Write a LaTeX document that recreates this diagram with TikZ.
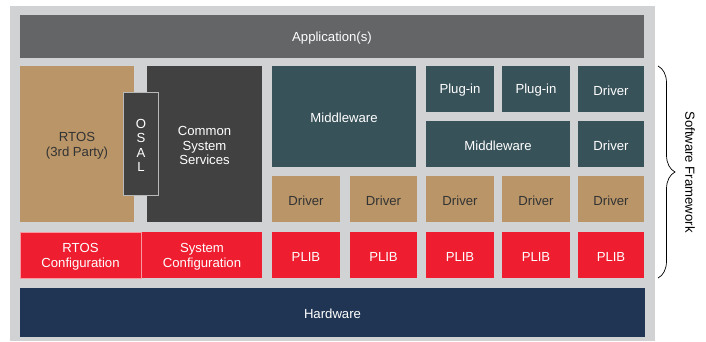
\documentclass[tikz,border=0pt]{standalone}
\usepackage{fontspec}
\setmainfont{Liberation Sans}
\usetikzlibrary{decorations.pathreplacing}
\definecolor{bggray}{HTML}{D1D2D4}
\definecolor{appgray}{HTML}{646567}
\definecolor{tanc}{HTML}{B99568}
\definecolor{darkc}{HTML}{414141}
\definecolor{tealc}{HTML}{38525A}
\definecolor{redc}{HTML}{EE1D2F}
\definecolor{navyc}{HTML}{1F3553}
\definecolor{tantext}{HTML}{333333}
\tikzset{
  blk/.style={anchor=north west, inner sep=0pt, outer sep=0pt},
  txt/.style={inner sep=0pt, align=center, yshift=-1.5bp, text=white,
    font=\fontsize{13.2}{14.6}\selectfont},
  appbox/.style={blk, fill=appgray},
  tanbox/.style={blk, fill=tanc},
  darkbox/.style={blk, fill=darkc},
  tealbox/.style={blk, fill=tealc},
  redbox/.style={blk, fill=redc},
  navybox/.style={blk, fill=navyc},
}
% \blk[extra]{style}{name}{x}{y}{w}{h}{text}{textcolor}
\newcommand\blkbox[8]{%
  \node[#1, minimum width=#5bp, minimum height=#6bp] (#2) at (#3,#4) {};
  \node[txt, text=#8] (#2-t) at (#2.center) {#7};}
\begin{document}
\begin{tikzpicture}[x=1bp,y=-1bp]
\useasboundingbox (0,0) rectangle (706,341);
\fill[bggray] (10,6) rectangle (655,341);
\blkbox{appbox}{app}{20}{15}{624}{43}{Application(s)}{white}
\blkbox{tanbox}{rtos}{20}{66}{114}{156}{RTOS\\(3rd Party)}{tantext}
\blkbox{darkbox}{css}{147}{66}{115}{156}{Common\\System\\Services}{white}
\blkbox{darkbox, draw=gray!55, line width=1bp}{osal}{123.5}{92.5}{35}{103}{O\\S\\A\\L}{white}
\blkbox{tealbox}{mw1}{272}{66}{144}{101}{Middleware}{white}
\blkbox{tealbox}{plug1}{426}{66}{68}{46}{Plug-in}{white}
\blkbox{tealbox}{plug2}{502}{66}{68}{46}{Plug-in}{white}
\blkbox{tealbox}{drvA}{578}{66}{66}{46}{Driver}{white}
\blkbox{tealbox}{mw2}{426}{121}{144}{46}{Middleware}{white}
\blkbox{tealbox}{drvB}{578}{121}{66}{46}{Driver}{white}
\blkbox{tanbox}{drv1}{272}{176}{68}{46}{Driver}{tantext}
\blkbox{tanbox}{drv2}{350}{176}{67}{46}{Driver}{tantext}
\blkbox{tanbox}{drv3}{426}{176}{68}{46}{Driver}{tantext}
\blkbox{tanbox}{drv4}{502}{176}{68}{46}{Driver}{tantext}
\blkbox{tanbox}{drv5}{578}{176}{66}{46}{Driver}{tantext}
\blkbox{redbox, draw=redc!45!white, line width=0.8bp}{rtoscfg}{20}{232}{121}{46}{RTOS\\Configuration}{white}
\blkbox{redbox}{syscfg}{142}{232}{120}{46}{System\\Configuration}{white}
\blkbox{redbox}{plib1}{272}{232}{68}{46}{PLIB}{white}
\blkbox{redbox}{plib2}{350}{232}{67}{46}{PLIB}{white}
\blkbox{redbox}{plib3}{426}{232}{68}{46}{PLIB}{white}
\blkbox{redbox}{plib4}{502}{232}{68}{46}{PLIB}{white}
\blkbox{redbox}{plib5}{578}{232}{66}{46}{PLIB}{white}
\blkbox{navybox}{hw}{20}{288}{625}{49}{Hardware}{white}
% Brace
\coordinate (bt) at (658,66);
\coordinate (bb) at (658,278);
\draw[line width=0.7bp, decorate, decoration={brace, amplitude=17bp}] (bt) -- (bb);
\node[rotate=-90, inner sep=0pt, font=\fontsize{13.2}{15}\selectfont, text=black] (sw) at (690,172) {Software Framework};
\end{tikzpicture}
\end{document}
